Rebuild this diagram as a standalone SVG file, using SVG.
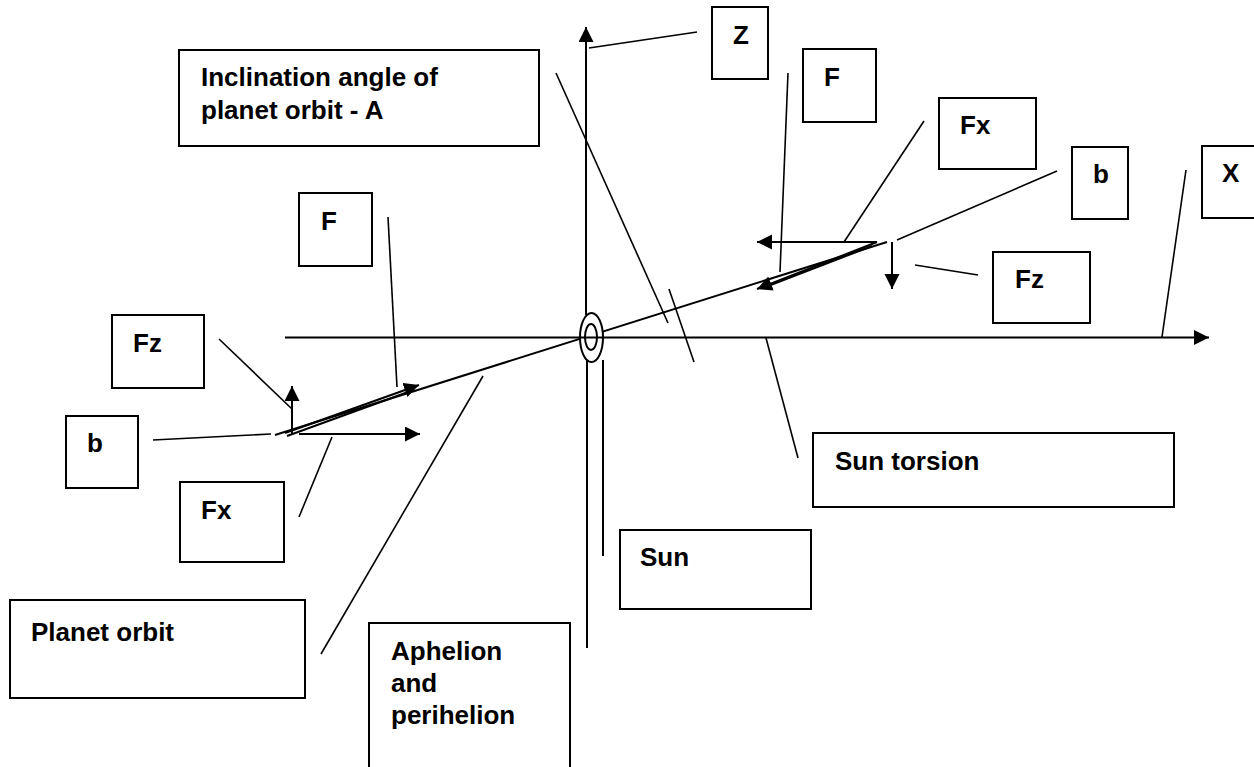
<svg xmlns="http://www.w3.org/2000/svg" width="1254" height="767" viewBox="0 0 1254 767">
<style>
  .box{fill:#fff;stroke:#000;stroke-width:2}
  .lbl{font-family:"Liberation Sans",Arial,sans-serif;font-weight:bold;font-size:26px;fill:#000}
  .ln{stroke:#000;stroke-width:2;fill:none}
  .thin{stroke:#000;stroke-width:1.6;fill:none}
  .arr{stroke:#000;stroke-width:2;fill:none;marker-end:url(#ah)}
</style>
<defs>
  <marker id="ah" markerUnits="userSpaceOnUse" markerWidth="16" markerHeight="16" viewBox="0 0 16 16" refX="15" refY="7.5" orient="auto">
    <path d="M0,0 L15,7.5 L0,15 z" fill="#000"/>
  </marker>
</defs>
<rect width="1254" height="767" fill="#fff"/>

<g id="connectors">
  <!-- orbit line -->
  <line class="ln" x1="275" y1="435" x2="887" y2="242"/>
  <!-- Z axis -->
  <line class="arr" x1="586" y1="315" x2="586" y2="27"/>
  <!-- lines below sun -->
  <line class="ln" x1="587" y1="360" x2="587" y2="648"/>
  <line class="ln" x1="603" y1="360" x2="603" y2="556"/>
  <!-- sun -->
  <ellipse cx="591.5" cy="337.5" rx="11.5" ry="24.5" fill="#fff" stroke="#000" stroke-width="2"/>
  <ellipse cx="591" cy="337" rx="6" ry="13" fill="none" stroke="#000" stroke-width="2"/>
  <!-- X axis -->
  <line class="arr" x1="285" y1="337.5" x2="1209" y2="337.5"/>
  <!-- angle marks -->
  <line class="thin" x1="556" y1="73" x2="668" y2="323"/>
  <line class="thin" x1="669" y1="289" x2="694" y2="362"/>
  <!-- label connectors -->
  <line class="thin" x1="589" y1="48" x2="697" y2="32"/>
  <line class="thin" x1="788" y1="73" x2="780" y2="272"/>
  <line class="thin" x1="924" y1="121" x2="844" y2="242"/>
  <line class="thin" x1="1057" y1="171" x2="897" y2="240"/>
  <line class="thin" x1="1186" y1="170" x2="1162" y2="337"/>
  <line class="thin" x1="915" y1="265" x2="978" y2="275"/>
  <line class="thin" x1="766" y1="338" x2="798" y2="458"/>
  <line class="thin" x1="388" y1="217" x2="397" y2="387"/>
  <line class="thin" x1="219" y1="339" x2="292" y2="409"/>
  <line class="thin" x1="153" y1="440" x2="271" y2="434"/>
  <line class="thin" x1="332" y1="437" x2="299" y2="517"/>
  <line class="thin" x1="483" y1="376" x2="321" y2="654"/>
  <!-- left force arrows -->
  <line class="arr" x1="292" y1="434" x2="292" y2="386"/>
  <line class="arr" x1="299" y1="434" x2="420" y2="434"/>
  <line class="arr" x1="285" y1="433" x2="419" y2="385"/>
  <line class="ln" x1="287" y1="436" x2="408" y2="392"/>
  <!-- right force arrows -->
  <line class="arr" x1="877" y1="242" x2="757" y2="242"/>
  <line class="arr" x1="892" y1="242" x2="892" y2="289"/>
  <line class="arr" x1="877" y1="242" x2="757" y2="289"/>
  <line class="ln" x1="872" y1="246" x2="768" y2="286"/>
</g>

<g id="n-incl"><rect class="box" x="179" y="50" width="360" height="96"/><text class="lbl" x="201" y="86">Inclination angle of</text><text class="lbl" x="201" y="119">planet orbit - A</text></g>
<g id="n-z"><rect class="box" x="712" y="7" width="56" height="72"/><text class="lbl" x="733" y="44">Z</text></g>
<g id="n-f-right"><rect class="box" x="803" y="49" width="73" height="73"/><text class="lbl" x="824" y="86">F</text></g>
<g id="n-fx-right"><rect class="box" x="939" y="98" width="97" height="71"/><text class="lbl" x="960" y="134">Fx</text></g>
<g id="n-b-right"><rect class="box" x="1072" y="147" width="56" height="72"/><text class="lbl" x="1093" y="183">b</text></g>
<g id="n-x"><rect class="box" x="1202" y="146" width="60" height="72"/><text class="lbl" x="1222" y="182">X</text></g>
<g id="n-fz-right"><rect class="box" x="993" y="252" width="97" height="71"/><text class="lbl" x="1015" y="288">Fz</text></g>
<g id="n-sun-torsion"><rect class="box" x="813" y="433" width="361" height="74"/><text class="lbl" x="835" y="470">Sun torsion</text></g>
<g id="n-sun"><rect class="box" x="620" y="530" width="191" height="79"/><text class="lbl" x="640" y="566">Sun</text></g>
<g id="n-aph"><rect class="box" x="369" y="623" width="201" height="150"/><text class="lbl" x="391" y="660">Aphelion</text><text class="lbl" x="391" y="692">and</text><text class="lbl" x="391" y="724">perihelion</text></g>
<g id="n-planet-orbit"><rect class="box" x="10" y="600" width="295" height="98"/><text class="lbl" x="31" y="641">Planet orbit</text></g>
<g id="n-fx-left"><rect class="box" x="180" y="482" width="104" height="80"/><text class="lbl" x="201" y="519">Fx</text></g>
<g id="n-b-left"><rect class="box" x="66" y="416" width="72" height="72"/><text class="lbl" x="87" y="452">b</text></g>
<g id="n-fz-left"><rect class="box" x="112" y="315" width="92" height="73"/><text class="lbl" x="133" y="352">Fz</text></g>
<g id="n-f-left"><rect class="box" x="299" y="193" width="73" height="73"/><text class="lbl" x="321" y="230">F</text></g>
</svg>
